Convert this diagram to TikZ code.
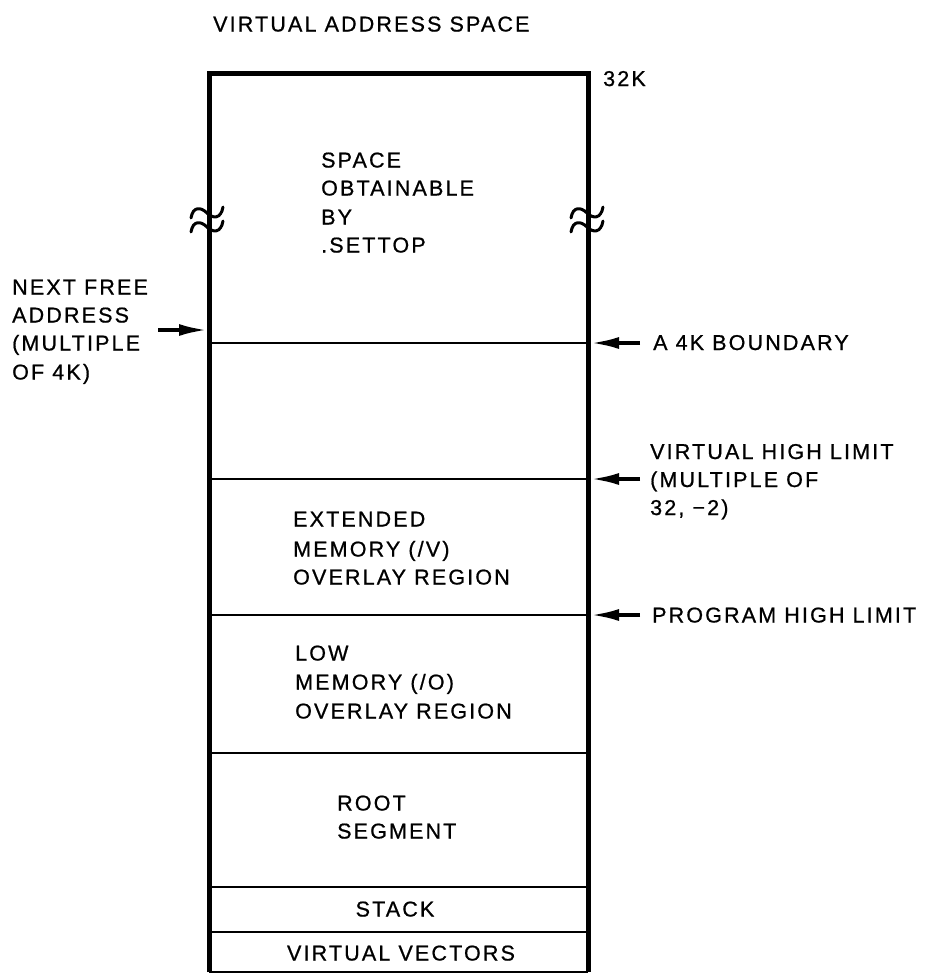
\documentclass[tikz,border=0pt]{standalone}
\usepackage{fontspec}
\setmainfont{Liberation Sans}[LetterSpace=10,FakeBold=0.8]
\usetikzlibrary{arrows.meta}
\newcommand\tline[3]{\node[lbl] (#1) at (#2) {#3};}
\newcommand\brkmark[2]{%
  \draw[brk] (#1-16,#2+5) .. controls (#1-14,#2-7) and (#1-6,#2-6) .. (#1,#2) .. controls (#1+6,#2+6) and (#1+14,#2+6) .. (#1+16,#2-6);}
\begin{document}
\begin{tikzpicture}[x=1pt,y=-1pt,
  lbl/.style={inner sep=0pt, anchor=base west, font=\fontsize{21.5}{29}\selectfont},
  ctr/.style={inner sep=0pt, anchor=base, font=\fontsize{21.5}{29}\selectfont},
  outer/.style={line width=5pt, line join=miter},
  divider/.style={line width=2.6pt},
  pointer/.style={line width=3.5pt, -{Latex[length=28pt,width=12pt]}},
  brk/.style={line width=3pt, line cap=round}]

\useasboundingbox (0,0) rectangle (926,975);

% corners
\coordinate (bl) at (209,972);
\coordinate (tl) at (209,73);
\coordinate (tr) at (588,73);
\coordinate (br) at (588,972);

% dividers
\foreach \y [count=\i] in {343,479,615,753,887,932}{
  \coordinate (dl\i) at (209,\y);
  \coordinate (dr\i) at (588,\y);
  \draw[divider] (dl\i) -- (dr\i);
}
\draw[divider] (bl) -- (br);
\draw[outer] (bl) -- (tl) -- (tr) -- (br);

% break marks
\brkmark{207}{213}
\brkmark{207}{227}
\brkmark{587}{213}
\brkmark{587}{227}

% title and top label
\tline{title}{213,31.5}{VIRTUAL ADDRESS SPACE}
\tline{k32}{603,86}{32K}

% top region text
\tline{s1}{321,167.5}{SPACE}
\tline{s2}{321,195.5}{OBTAINABLE}
\tline{s3}{321,224.5}{BY}
\tline{s4}{321,252.5}{.SETTOP}

% extended memory region
\tline{e1}{293,526.5}{EXTENDED}
\tline{e2}{293,556.5}{MEMORY (/V)}
\tline{e3}{293,584.5}{OVERLAY REGION}

% low memory region
\tline{l1}{295,660.5}{LOW}
\tline{l2}{295,689.5}{MEMORY (/O)}
\tline{l3}{295,718.5}{OVERLAY REGION}

% root segment
\tline{r1}{337,810.5}{ROOT}
\tline{r2}{337,838.5}{SEGMENT}

% stack and vectors
\node[ctr] (stack) at (395,916.5) {STACK};
\node[ctr] (vv) at (401,960.5) {VIRTUAL VECTORS};

% left label and arrow
\tline{n1}{12,294.5}{NEXT FREE}
\tline{n2}{12,322.5}{ADDRESS}
\tline{n3}{12,350.5}{(MULTIPLE}
\tline{n4}{12,379.5}{OF 4K)}
\coordinate (nfs) at (158,330);
\coordinate (nfe) at (207,330);
\draw[pointer] (nfs) -- (nfe);

% right labels and arrows
\tline{b4k}{653,350}{A 4K BOUNDARY}
\tline{v1}{650,459}{VIRTUAL HIGH LIMIT}
\tline{v2}{650,487}{(MULTIPLE OF}
\tline{v3}{650,515}{32, \textminus2)}
\tline{phl}{652,622.5}{PROGRAM HIGH LIMIT}

\coordinate (a1s) at (640,343); \coordinate (a1e) at (591,343);
\coordinate (a2s) at (640,479); \coordinate (a2e) at (591,479);
\coordinate (a3s) at (640,615); \coordinate (a3e) at (591,615);
\draw[pointer] (a1s) -- (a1e);
\draw[pointer] (a2s) -- (a2e);
\draw[pointer] (a3s) -- (a3e);
\end{tikzpicture}
\end{document}
